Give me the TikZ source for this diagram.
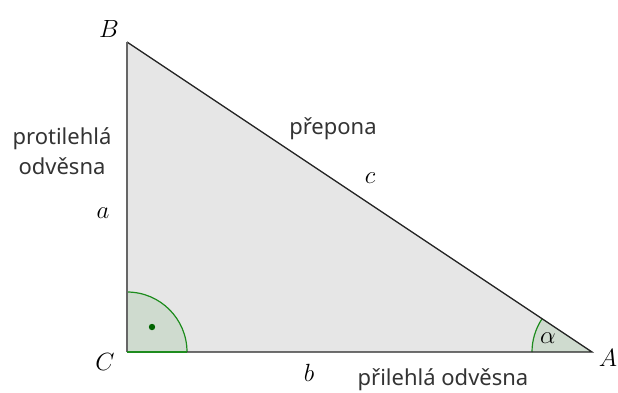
\documentclass[tikz,border=0pt]{standalone}
\usepackage{fontspec}
\usetikzlibrary{calc}
\newfontfamily\lblfont{Noto Sans}
\definecolor{trifill}{HTML}{E6E6E6}
\definecolor{angfill}{HTML}{CFDBCF}
\definecolor{anggreen}{HTML}{1E8C1E}
\definecolor{dotgreen}{HTML}{006400}
\definecolor{txtgray}{HTML}{333333}
\begin{document}
\begin{tikzpicture}[x=1pt,y=-1pt,
  ptlabel/.style={inner sep=0pt,font=\fontsize{28}{32}\selectfont},
  sidelabel/.style={inner sep=0pt,font=\fontsize{28}{32}\selectfont},
  wordlabel/.style={inner sep=0pt,text=txtgray,align=center,font=\lblfont\fontsize{22}{30}\selectfont},
  side/.style={draw=black!85,line width=1.3pt}]
\useasboundingbox (0,0) rectangle (618,392);
\coordinate (C) at (127,352);
\coordinate (B) at (127,42);
\coordinate (A) at (592,352);
\fill[trifill] (C) -- (B) -- (A) -- cycle;
% right angle
\fill[angfill] (C) -- ++(60,0) arc[start angle=0,end angle=-90,radius=60] -- cycle;
\draw[anggreen,line width=1.2pt] ($(C)+(60,0)$) arc[start angle=0,end angle=-90,radius=60];
\fill[dotgreen] (152,327) circle (3.2);
% alpha angle
\fill[angfill] (A) -- ++(-60,0) arc[start angle=180,end angle=213.69,radius=60] -- cycle;
\draw[anggreen,line width=1.2pt] ($(A)+(-60,0)$) arc[start angle=180,end angle=213.69,radius=60];
\draw[side] (C) -- (A) -- (B);
\draw[side,draw=black!60,line width=1.8pt] (C) -- (B);
\draw[anggreen,line width=1.2pt] (C) -- ++(60,0);
\node[ptlabel] (lB) at (109,29) {$B$};
\node[ptlabel] (lC) at (105,362) {$C$};
\node[ptlabel] (lA) at (608,358) {$A$};
\node[sidelabel] (la) at (103,213) {$a$};
\node[sidelabel] (lb) at (309,373) {$b$};
\node[sidelabel] (lc) at (370,178) {$c$};
\node[sidelabel,font=\fontsize{24}{28}\selectfont] (lal) at (548,338) {$\alpha$};
\node[wordlabel] (wopp) at (62,151) {protilehlá\\odvěsna};
\node[wordlabel] (whyp) at (333,129) {přepona};
\node[wordlabel] (wadj) at (443,380) {přilehlá odvěsna};
\end{tikzpicture}
\end{document}
